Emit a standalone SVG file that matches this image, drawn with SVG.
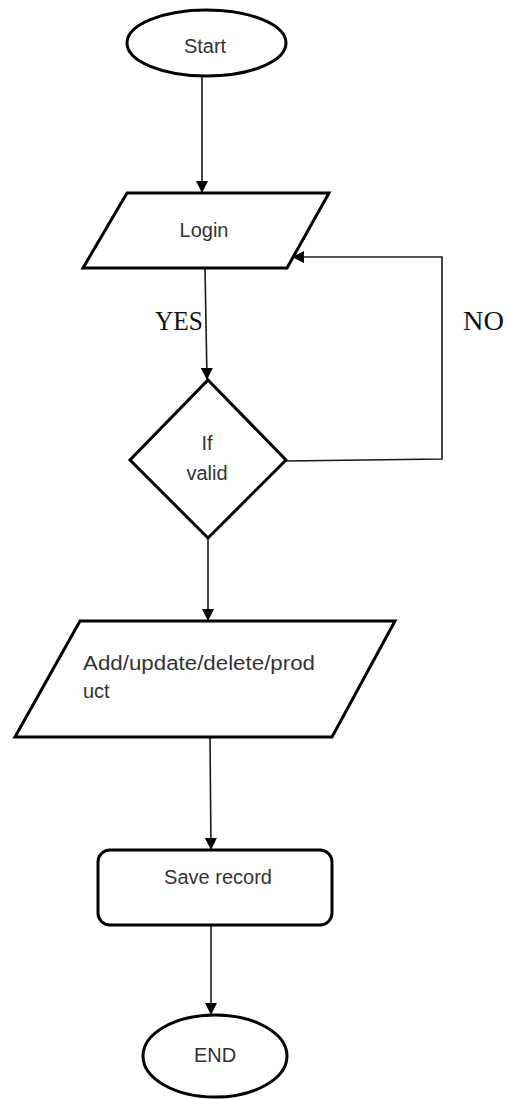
<svg xmlns="http://www.w3.org/2000/svg" width="507" height="1099" viewBox="0 0 507 1099">
  <style>
    .shape { fill: #ffffff; stroke: #000000; stroke-width: 3; stroke-linejoin: miter; }
    .edge { fill: none; stroke: #1a1a1a; stroke-width: 1.6; }
    .label { font-family: "Liberation Sans", Arial, sans-serif; font-size: 20px; fill: #333333; }
    .serif { font-family: "Liberation Serif", "Times New Roman", serif; font-size: 27px; fill: #111111; }
  </style>
  <defs>
    <marker id="arrow" viewBox="0 0 12 12" refX="11" refY="6" markerWidth="12" markerHeight="12" markerUnits="userSpaceOnUse" orient="auto">
      <path d="M0,0 L12,6 L0,12 Z" fill="#000000"/>
    </marker>
  </defs>
  <rect width="507" height="1099" fill="#ffffff"/>

  <g id="connectors">
    <line class="edge" x1="202" y1="76" x2="202" y2="192" marker-end="url(#arrow)"/>
    <line class="edge" x1="205" y1="268" x2="207" y2="379" marker-end="url(#arrow)"/>
    <polyline class="edge" points="286,461 442,459 442,257 293,257" marker-end="url(#arrow)"/>
    <line class="edge" x1="208" y1="538" x2="208" y2="620" marker-end="url(#arrow)"/>
    <line class="edge" x1="210" y1="737" x2="211" y2="849" marker-end="url(#arrow)"/>
    <line class="edge" x1="211" y1="925" x2="211" y2="1014" marker-end="url(#arrow)"/>
    <text class="serif" x="155" y="330" textLength="48" lengthAdjust="spacingAndGlyphs">YES</text>
    <text class="serif" x="463" y="330" textLength="41" lengthAdjust="spacingAndGlyphs">NO</text>
  </g>

  <g id="start">
    <ellipse class="shape" cx="206.5" cy="43" rx="79.5" ry="33"/>
    <text class="label" x="205" y="53" text-anchor="middle">Start</text>
  </g>

  <g id="login">
    <polygon class="shape" points="127,193 329,193 287,268 83,268"/>
    <text class="label" x="204" y="237" text-anchor="middle">Login</text>
  </g>

  <g id="if-valid">
    <polygon class="shape" points="208,380 286,460 208,538 130,460"/>
    <text class="label" x="207" y="450" text-anchor="middle">If</text>
    <text class="label" x="207" y="480" text-anchor="middle">valid</text>
  </g>

  <g id="product">
    <polygon class="shape" points="80,621 395,621 332,737 15,737"/>
    <text class="label" x="83" y="670" textLength="232" lengthAdjust="spacingAndGlyphs">Add/update/delete/prod</text>
    <text class="label" x="83" y="698">uct</text>
  </g>

  <g id="save-record">
    <rect class="shape" x="98" y="850" width="234" height="75" rx="12" ry="12"/>
    <text class="label" x="218" y="884" text-anchor="middle">Save record</text>
  </g>

  <g id="end">
    <ellipse class="shape" cx="215" cy="1056" rx="72" ry="41"/>
    <text class="label" x="215" y="1062" text-anchor="middle">END</text>
  </g>
</svg>
